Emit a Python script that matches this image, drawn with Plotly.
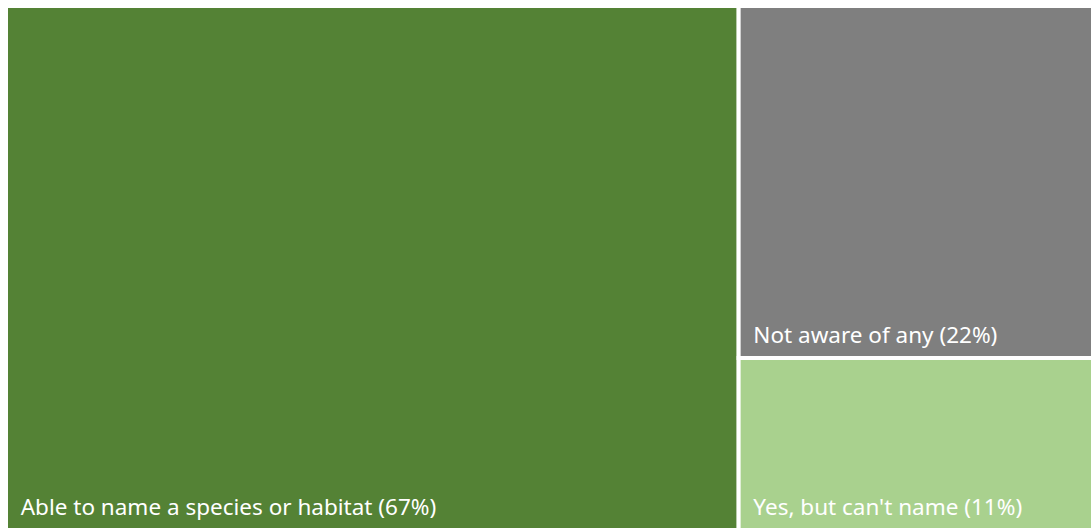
import plotly.graph_objects as go

labels = ["Able to name a species or habitat", "Not aware of any", "Yes, but can't name"]
values = [67.4, 21.9, 10.7]
colors = ["#548235", "#7F7F7F", "#A9D18E"]

NB = "\u00a0"
template = ("<span style='font-size:22.5px'>" + NB * 2 + "%{label} (%{value:.0f}%)</span>"
            "<br>" + NB)

fig = go.Figure(go.Treemap(
    labels=labels,
    parents=["", "", ""],
    values=values,
    branchvalues="total",
    sort=False,
    texttemplate=template,
    textposition="bottom left",
    textfont=dict(family="Noto Sans", size=7.5, color="white"),
    marker=dict(colors=colors, line=dict(width=4, color="white"),
                pad=dict(t=0, l=0, r=0, b=0)),
    pathbar=dict(visible=False),
    hoverinfo="skip",
    tiling=dict(packing="squarify", pad=0),
))
fig.update_layout(
    width=1093, height=530,
    margin=dict(l=6, r=0, t=6, b=0),
    paper_bgcolor="white",
)
fig.write_html(
    "out.html",
    config={"displayModeBar": False},
    post_script="document.body.style.margin='0';document.body.style.overflow='hidden';",
)
